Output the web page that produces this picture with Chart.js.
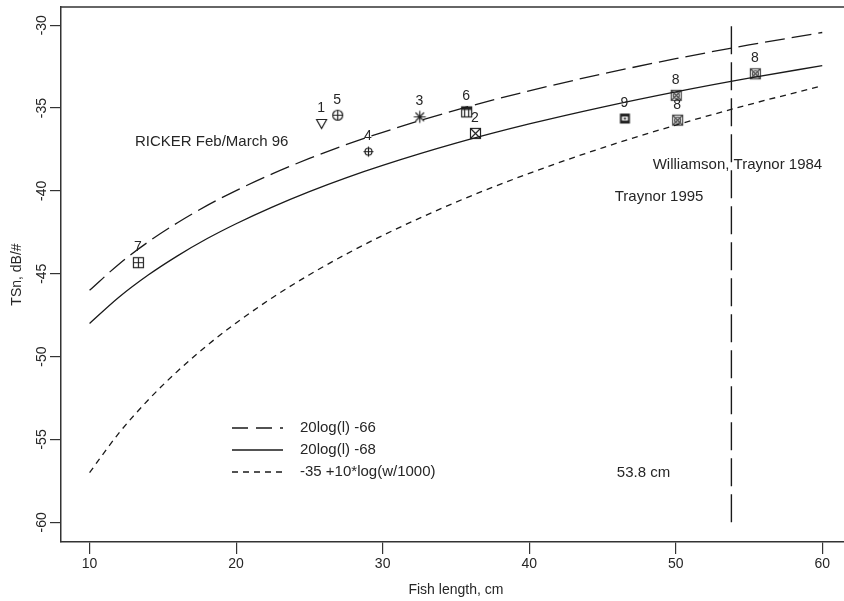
<!DOCTYPE html>
<html>
<head>
<meta charset="utf-8">
<script src="https://cdn.jsdelivr.net/npm/chart.js@4.4.1/dist/chart.umd.min.js"></script>
<style>
html,body{margin:0;padding:0;background:#fff;}
#wrap{width:844px;height:601px;}
</style>
</head>
<body>
<div id="wrap"><canvas id="c" width="844" height="601"></canvas></div>
<script>
// ---- data ----
const curveLengths = [10, 12, 14, 16, 18, 20, 22.5, 25, 27.5, 30, 35, 40, 45, 50, 55, 60];
const curve66 = [-46.00, -44.42, -43.08, -41.92, -40.89, -39.98, -38.96, -38.04, -37.21, -36.46, -35.12, -33.96, -32.94, -32.02, -31.19, -30.44];
const curve68 = [-48.00, -46.42, -45.08, -43.92, -42.89, -41.98, -40.96, -40.04, -39.21, -38.46, -37.12, -35.96, -34.94, -34.02, -33.19, -32.44];
const curveWeight = [-57.00, -54.62, -52.62, -50.88, -49.34, -47.97, -46.43, -45.06, -43.82, -42.69, -40.68, -38.94, -37.40, -36.03, -34.79, -33.66];

const obsLengths = [13.3, 25.8, 26.9, 29.0, 32.5, 35.7, 36.3, 46.5, 50.0, 50.1, 55.4];
const obsTS = [-44.3, -35.9, -35.4, -37.6, -35.5, -35.2, -36.5, -35.6, -34.2, -35.7, -32.9];
const obsLabels = ['7', '1', '5', '4', '3', '6', '2', '9', '8', '8', '8'];
const obsSymbols = ['boxPlus', 'triDown', 'circlePlus', 'circlePlusSmall', 'asterisk', 'pi', 'boxX', 'boxDark', 'boxXc', 'boxXc', 'boxXc'];

const cutLength = [53.8, 53.8];
const cutTS = [-60, -30];

const xTicks = [10, 20, 30, 40, 50, 60];
const yTicks = [-60, -55, -50, -45, -40, -35, -30];

const legendLabels = ['20log(l) -66', '20log(l) -68', '-35 +10*log(w/1000)'];
const annotationTexts = ['RICKER Feb/March 96', 'Williamson, Traynor 1984', 'Traynor 1995', '53.8 cm'];

// ---- styling / layout ----
const FONT = '"Liberation Sans", Arial, sans-serif';
const INK = '#1a1a1a';
const TXT = '#262626';
const DASH_LONG = [20, 7];
const DASH_SHORT = [6, 5];
const DASH_CUT = [28, 8];

function makeSymbol(type) {
  const s = 16, c = document.createElement('canvas');
  c.width = s; c.height = s;
  const g = c.getContext('2d');
  g.strokeStyle = '#222'; g.fillStyle = '#222'; g.lineWidth = 1.2;
  const m = s / 2;
  g.translate(0.5, 0.5);
  if (type === 'boxPlus') {
    g.strokeRect(m - 5, m - 5, 10, 10);
    g.beginPath(); g.moveTo(m, m - 5); g.lineTo(m, m + 5); g.moveTo(m - 5, m); g.lineTo(m + 5, m); g.stroke();
  } else if (type === 'triDown') {
    g.beginPath(); g.moveTo(m - 5, m - 4); g.lineTo(m + 5, m - 4); g.lineTo(m, m + 5); g.closePath(); g.stroke();
  } else if (type === 'circlePlus') {
    g.beginPath(); g.arc(m, m, 5, 0, Math.PI * 2); g.stroke();
    g.beginPath(); g.moveTo(m, m - 5); g.lineTo(m, m + 5); g.moveTo(m - 5, m); g.lineTo(m + 5, m); g.stroke();
  } else if (type === 'circlePlusSmall') {
    g.beginPath(); g.arc(m, m, 3.5, 0, Math.PI * 2); g.stroke();
    g.beginPath(); g.moveTo(m, m - 5); g.lineTo(m, m + 5); g.moveTo(m - 5, m); g.lineTo(m + 5, m); g.stroke();
  } else if (type === 'asterisk') {
    g.beginPath();
    for (let k = 0; k < 4; k++) {
      const a = k * Math.PI / 4;
      g.moveTo(m - 6 * Math.cos(a), m - 6 * Math.sin(a));
      g.lineTo(m + 6 * Math.cos(a), m + 6 * Math.sin(a));
    }
    g.stroke();
  } else if (type === 'pi') {
    g.fillRect(m - 5, m - 5, 10, 3);
    g.strokeRect(m - 5, m - 5, 10, 10);
    g.beginPath(); g.moveTo(m - 2, m - 3); g.lineTo(m - 2, m + 5); g.moveTo(m + 2, m - 3); g.lineTo(m + 2, m + 5); g.stroke();
  } else if (type === 'boxX') {
    g.strokeRect(m - 5, m - 5, 10, 10);
    g.beginPath(); g.moveTo(m - 5, m - 5); g.lineTo(m + 5, m + 5); g.moveTo(m + 5, m - 5); g.lineTo(m - 5, m + 5); g.stroke();
  } else if (type === 'boxDark') {
    g.fillRect(m - 5, m - 5, 10, 10);
    g.fillStyle = '#fff'; g.fillRect(m - 3, m - 2, 6, 4);
    g.fillStyle = '#222'; g.fillRect(m - 1, m - 1, 2, 2);
  } else if (type === 'boxXc') {
    g.strokeStyle = '#444';
    g.strokeRect(m - 5, m - 5, 10, 10);
    g.beginPath(); g.arc(m, m, 3, 0, Math.PI * 2); g.stroke();
    g.beginPath(); g.moveTo(m - 5, m - 5); g.lineTo(m + 5, m + 5); g.moveTo(m + 5, m - 5); g.lineTo(m - 5, m + 5); g.stroke();
  }
  return c;
}

const toXY = (xs, ys) => xs.map((x, i) => ({ x: x, y: ys[i] }));

const datasets = [
  { label: legendLabels[0], data: toXY(curveLengths, curve66), borderColor: INK, borderWidth: 1.3, borderDash: DASH_LONG, pointRadius: 0, cubicInterpolationMode: 'monotone', fill: false },
  { label: legendLabels[1], data: toXY(curveLengths, curve68), borderColor: INK, borderWidth: 1.3, pointRadius: 0, cubicInterpolationMode: 'monotone', fill: false },
  { label: legendLabels[2], data: toXY(curveLengths, curveWeight), borderColor: INK, borderWidth: 1.3, borderDash: DASH_SHORT, pointRadius: 0, cubicInterpolationMode: 'monotone', fill: false },
  { label: 'cut', data: toXY(cutLength, cutTS), borderColor: INK, borderWidth: 1.4, borderDash: DASH_CUT, pointRadius: 0, fill: false },
  { label: 'obs', data: toXY(obsLengths, obsTS), showLine: false, pointStyle: obsSymbols.map(makeSymbol), pointRadius: 0.5, pointBorderWidth: 0, pointHoverRadius: 0.5, pointHoverBorderWidth: 0 }
];

const annotations = [
  { text: annotationTexts[0], x: 13.1, y: -37.06, align: 'left' },
  { text: annotationTexts[1], x: 48.43, y: -38.45, align: 'left' },
  { text: annotationTexts[2], x: 45.84, y: -40.36, align: 'left' },
  { text: annotationTexts[3], x: 45.98, y: -57.0, align: 'left' }
];

const decor = {
  id: 'decor',
  afterDraw(chart) {
    const ctx = chart.ctx, xs = chart.scales.x, ys = chart.scales.y, a = chart.chartArea;
    ctx.save();
    // top frame line
    ctx.strokeStyle = '#333'; ctx.lineWidth = 1.5;
    ctx.beginPath(); ctx.moveTo(a.left, a.top); ctx.lineTo(chart.width, a.top); ctx.stroke();
    // y tick labels rotated
    ctx.fillStyle = TXT; ctx.font = '14px ' + FONT; ctx.textAlign = 'center'; ctx.textBaseline = 'middle';
    yTicks.forEach(v => {
      const py = ys.getPixelForValue(v);
      ctx.save(); ctx.translate(42, py); ctx.rotate(-Math.PI / 2); ctx.fillText(String(v), 0, 0); ctx.restore();
    });
    // y title
    ctx.save(); ctx.translate(17, (a.top + a.bottom) / 2); ctx.rotate(-Math.PI / 2); ctx.fillText('TSn, dB/#', 0, 0); ctx.restore();
    // x title
    ctx.fillText('Fish length, cm', (xs.getPixelForValue(35)), 590);
    // annotations
    ctx.font = '15px ' + FONT;
    annotations.forEach(t => {
      ctx.textAlign = t.align;
      ctx.fillText(t.text, xs.getPixelForValue(t.x), ys.getPixelForValue(t.y));
    });
    // point labels
    const meta = chart.getDatasetMeta(4);
    ctx.font = '14px ' + FONT; ctx.textAlign = 'center';
    meta.data.forEach((el, i) => { ctx.fillText(obsLabels[i], el.x, el.y - 15); });
    // legend
    ctx.font = '15px ' + FONT; ctx.textAlign = 'left';
    const dashes = [[16, 8], [], DASH_SHORT];
    const lx0 = 232, lx1 = 283, tx = 300, ly0 = 428, dy = 22;
    legendLabels.forEach((lab, i) => {
      const yy = ly0 + i * dy;
      ctx.strokeStyle = INK; ctx.lineWidth = 1.3; ctx.setLineDash(dashes[i]);
      ctx.beginPath(); ctx.moveTo(lx0, yy); ctx.lineTo(lx1, yy); ctx.stroke();
      ctx.setLineDash([]);
      ctx.fillText(lab, tx, yy);
    });
    ctx.restore();
  }
};

new Chart(document.getElementById('c'), {
  type: 'line',
  data: { datasets },
  options: {
    responsive: false,
    animation: false,
    layout: { padding: { top: 7, right: 0, left: 0, bottom: 0 } },
    plugins: { legend: { display: false }, tooltip: { enabled: false } },
    scales: {
      x: {
        type: 'linear', min: 8.05, max: 61.45,
        afterBuildTicks: s => { s.ticks = xTicks.map(v => ({ value: v })); },
        afterFit: s => { s.height = 59; },
        grid: { drawOnChartArea: false, drawTicks: true, tickLength: 12, color: '#333', lineWidth: 1.2 },
        border: { display: true, color: '#333', width: 1.5 },
        ticks: { color: TXT, font: { family: FONT, size: 14 }, padding: 2, maxRotation: 0 }
      },
      y: {
        type: 'linear', min: -61.19, max: -28.9,
        afterBuildTicks: s => { s.ticks = yTicks.map(v => ({ value: v })); },
        afterFit: s => { s.width = 61; },
        grid: { drawOnChartArea: false, drawTicks: true, tickLength: 11, color: '#333', lineWidth: 1.2 },
        border: { display: true, color: '#333', width: 1.5 },
        ticks: { display: false }
      }
    }
  },
  plugins: [decor]
});
</script>
</body>
</html>
